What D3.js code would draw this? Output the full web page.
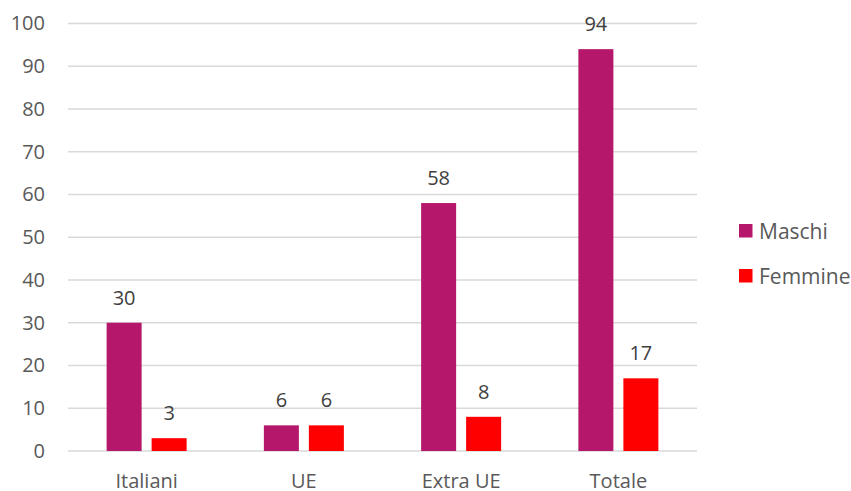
<!DOCTYPE html>
<html><head><meta charset="utf-8">
<script src="https://cdn.jsdelivr.net/npm/d3@7"></script>
<style>body{margin:0;background:#fff;} text{font-family:"Open Sans",sans-serif;fill:#595959;}</style>
</head><body>
<svg id="c" width="851" height="491"></svg>
<script>
const categories = ["Italiani", "UE", "Extra UE", "Totale"];
const seriesNames = ["Maschi", "Femmine"];
const maschi = [30, 6, 58, 94];
const femmine = [3, 6, 8, 17];
const yTicks = [0, 10, 20, 30, 40, 50, 60, 70, 80, 90, 100];
const colors = ["#B5176B", "#FF0000"];

(function(){
const svg = d3.select("#c");
const pl = 68, pr = 697, pt = 23.5, pb = 451;
const x = d3.scaleBand().domain(categories).range([pl, pr]);
const xs = d3.scaleBand().domain(seriesNames).range([0, 80]).paddingInner(10/45);
const y = d3.scaleLinear().domain([0, 100]).range([pb, pt]);

// gridlines
svg.append("g").selectAll("line").data(yTicks).join("line")
  .attr("x1", pl).attr("x2", pr)
  .attr("y1", d => y(d)).attr("y2", d => y(d))
  .attr("stroke", "#D9D9D9").attr("stroke-width", 1.5);

// y labels
const yAxis = d3.axisLeft(y).tickValues(yTicks).tickSize(0).tickPadding(0);
const ya = svg.append("g").attr("transform", `translate(45,0)`).call(yAxis);
ya.select(".domain").remove();
ya.selectAll("text").attr("font-size", 20).attr("fill", "#595959").attr("font-family", "Open Sans");

// x labels
const xAxis = d3.axisBottom(x).tickSize(0).tickPadding(0);
const xa = svg.append("g").attr("transform", `translate(0,${pb})`).call(xAxis);
xa.select(".domain").remove();
xa.selectAll("text").attr("font-size", 20).attr("fill", "#595959").attr("font-family", "Open Sans").attr("dy", null).attr("y", 36.5);

const data = categories.map((c, i) => ({c, vals: [maschi[i], femmine[i]]}));
const groups = svg.append("g").selectAll("g").data(data).join("g")
  .attr("transform", d => `translate(${x(d.c) + (x.bandwidth() - 80) / 2},0)`);
groups.selectAll("rect").data(d => d.vals.map((v, j) => ({v, s: seriesNames[j], j})))
  .join("rect")
  .attr("x", d => xs(d.s)).attr("width", xs.bandwidth())
  .attr("y", d => y(d.v)).attr("height", d => pb - y(d.v))
  .attr("fill", d => colors[d.j]);
groups.selectAll("text").data(d => d.vals.map((v, j) => ({v, s: seriesNames[j], j})))
  .join("text")
  .attr("x", d => xs(d.s) + xs.bandwidth() / 2)
  .attr("y", d => y(d.v) - 18)
  .attr("text-anchor", "middle").attr("font-size", 20)
  .style("fill", "#404040")
  .text(d => d.v);

// legend
const lg = svg.append("g").selectAll("g").data(seriesNames).join("g")
  .attr("transform", (d, i) => `translate(739,${224 + i * 45})`);
lg.append("rect").attr("width", 13.5).attr("height", 13.5).attr("fill", (d, i) => colors[i]);
lg.append("text").attr("x", 20).attr("y", 14.5).attr("font-size", 21).text(d => d);
})();
</script>
</body></html>
